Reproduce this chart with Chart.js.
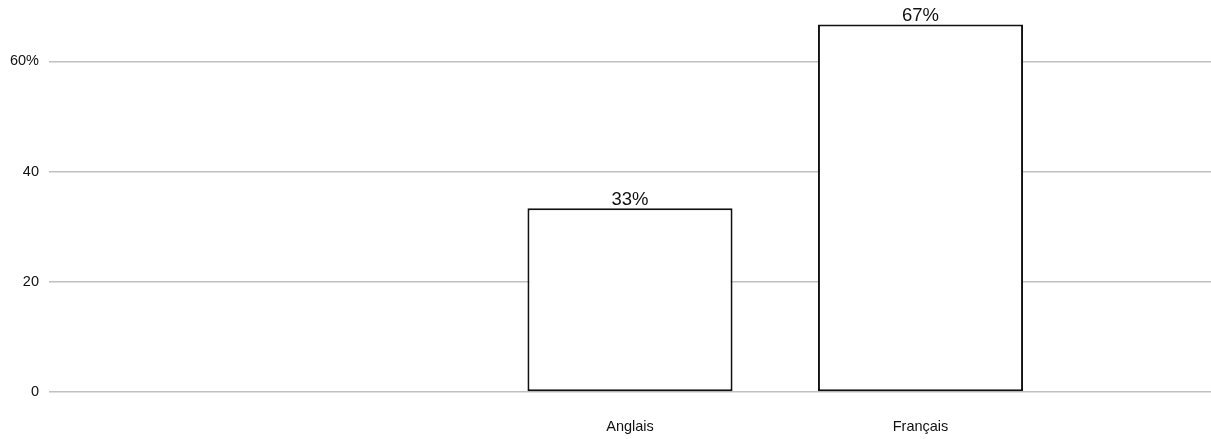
<!DOCTYPE html>
<html>
<head>
<meta charset="utf-8">
<script src="https://cdn.jsdelivr.net/npm/chart.js@4/dist/chart.umd.min.js"></script>
<style>
  html, body { margin: 0; padding: 0; background: #fff; overflow: hidden; }
  #wrap { width: 1211px; height: 439px; }
</style>
</head>
<body>
<div id="wrap"><canvas id="chart"></canvas></div>
<script>
const categories = ['', '', 'Anglais', 'Français', ''];
const shares = [null, null, 33.33, 66.67, null];
const yTicks = [0, 20, 40, 60];

// draws the "33%" style labels above each bar
const barLabels = {
  id: 'barLabels',
  afterDatasetsDraw(chart) {
    const ctx = chart.ctx;
    const meta = chart.getDatasetMeta(0);
    ctx.save();
    ctx.font = '18.5px "Liberation Sans", Arial, sans-serif';
    ctx.fillStyle = '#111';
    ctx.textAlign = 'center';
    ctx.textBaseline = 'bottom';
    meta.data.forEach((bar, i) => {
      const v = shares[i];
      if (v === null) return;
      ctx.fillText(Math.round(v) + '%', bar.x, bar.y + 1);
    });
    ctx.restore();
  }
};

new Chart(document.getElementById('chart'), {
  type: 'bar',
  data: {
    labels: categories,
    datasets: [{
      data: shares,
      backgroundColor: '#fff',
      borderColor: '#111',
      borderWidth: 2,
      borderSkipped: false,
      barPercentage: 1,
      categoryPercentage: 0.706
    }]
  },
  options: {
    responsive: true,
    maintainAspectRatio: false,
    animation: false,
    layout: { padding: { top: 20, right: 0, bottom: 4, left: 0 } },
    plugins: { legend: { display: false }, tooltip: { enabled: false } },
    scales: {
      x: {
        offset: false,
        afterFit: (scale) => {
          scale.paddingLeft = 0;
          scale.paddingRight = 0;
          scale.height = 43;
        },
        grid: { display: false, drawTicks: false },
        border: { display: false },
        ticks: {
          padding: 26,
          maxRotation: 0,
          autoSkip: false,
          color: '#111',
          font: { family: '"Liberation Sans", Arial, sans-serif', size: 14.5 }
        }
      },
      y: {
        min: 0,
        max: 67.5,
        afterBuildTicks: (scale) => {
          scale.ticks = yTicks.map((v) => ({ value: v }));
        },
        afterFit: (scale) => { scale.width = 49; },
        grid: { color: '#c0c0c0', lineWidth: 1.5, drawTicks: false },
        border: { display: false },
        ticks: {
          padding: 10,
          color: '#111',
          font: { family: '"Liberation Sans", Arial, sans-serif', size: 14.5 },
          callback: (v) => (v === 60 ? v + '%' : v)
        }
      }
    }
  },
  plugins: [barLabels]
});
</script>
</body>
</html>
